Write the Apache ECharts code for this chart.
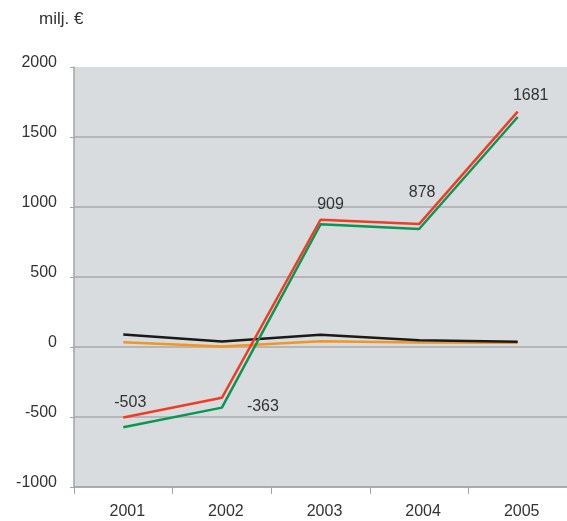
<!DOCTYPE html>
<html>
<head>
<meta charset="utf-8">
<script src="https://cdn.jsdelivr.net/npm/echarts@6/dist/echarts.min.js"></script>
<style>
  html, body { margin: 0; padding: 0; background: #fff; }
  #chart { width: 567px; height: 521px; }
</style>
</head>
<body>
<div id="chart"></div>
<script>
    // 数据
    const years = ['2001', '2002', '2003', '2004', '2005'];
    const redValues = [-503, -363, 909, 878, 1681];
    const greenValues = [-573, -433, 876, 843, 1643];
    const blackValues = [90, 40, 88, 48, 38];
    const orangeValues = [34, 3, 41, 33, 30];
    const yTicks = { min: -1000, max: 2000, step: 500 };

    const FONT = 'Liberation Sans, Arial, sans-serif';
    const TEXT_COLOR = '#333';

    // 红线标签偏移
    const labelOffsets = [[7, -2], [41, 22], [10, -2], [3, -18], [13, -3]];

    const chart = echarts.init(document.getElementById('chart'));

    function lineSeries(name, values, color, z) {
        return {
            name: name,
            type: 'line',
            data: values,
            symbol: 'circle',
            symbolSize: 0,
            z: z,
            lineStyle: { color: color, width: 2.5 },
            itemStyle: { color: color }
        };
    }

    const redSeries = lineSeries('red', redValues, '#f23b22', 5);
    redSeries.data = redValues.map((v, i) => ({
        value: v,
        label: {
            show: true,
            position: 'top',
            offset: labelOffsets[i],
            formatter: String(v),
            fontFamily: FONT,
            fontSize: 16,
            color: TEXT_COLOR
        }
    }));

    const option = {
        animation: false,
        title: {
            text: 'milj. €',
            left: 34,
            top: 6,
            textStyle: { fontFamily: FONT, fontSize: 17, fontWeight: 'normal', color: TEXT_COLOR }
        },
        grid: {
            left: 74,
            right: -7,
            top: 67,
            bottom: 34,
            show: true,
            backgroundColor: '#d9dcdf',
            borderWidth: 0
        },
        xAxis: {
            type: 'category',
            data: years,
            axisLine: { onZero: false, lineStyle: { color: '#a3a5a8', width: 1.5 } },
            axisTick: { show: true, length: 7, lineStyle: { color: '#a3a5a8' } },
            axisLabel: {
                fontFamily: FONT, fontSize: 16, color: TEXT_COLOR, margin: 17,
                padding: [0, 0, 0, 8]
            }
        },
        yAxis: {
            type: 'value',
            min: yTicks.min,
            max: yTicks.max,
            interval: yTicks.step,
            axisLine: { show: true, lineStyle: { color: '#a3a5a8', width: 1.5 } },
            axisTick: { show: true, length: 4, lineStyle: { color: '#a3a5a8' } },
            axisLabel: {
                fontFamily: FONT, fontSize: 16, color: TEXT_COLOR,
                margin: 17, verticalAlign: 'bottom', lineHeight: 8,
                formatter: v => String(v)
            },
            splitLine: { show: true, showMaxLine: false, lineStyle: { color: '#a8aaad', width: 1.5 } }
        },
        series: [
            lineSeries('orange', orangeValues, '#f7941d', 2),
            lineSeries('black', blackValues, '#1a1a1a', 3),
            lineSeries('green', greenValues, '#0b9553', 4),
            redSeries
        ]
    };

    chart.setOption(option);
</script>
</body>
</html>
